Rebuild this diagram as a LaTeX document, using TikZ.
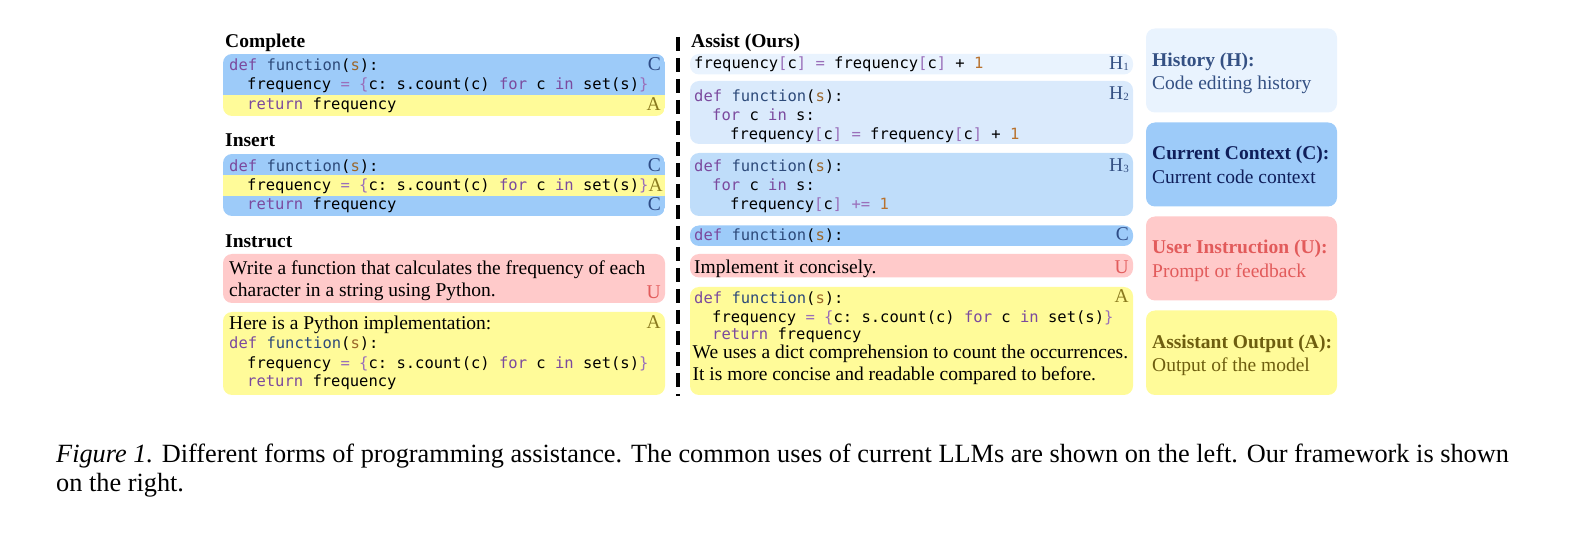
\documentclass[tikz,border=0pt]{standalone}
\usepackage{fontspec}
\setmainfont{Liberation Serif}
\setmonofont{DejaVu Sans Mono}
\definecolor{cblue}{HTML}{9DCBF9}
\definecolor{ayel}{HTML}{FFFB99}
\definecolor{upink}{HTML}{FFCACA}
\definecolor{hone}{HTML}{E9F3FE}
\definecolor{htwo}{HTML}{DAEAFC}
\definecolor{hthree}{HTML}{BFDDFA}
\definecolor{htxt}{HTML}{345083}
\definecolor{ctxt}{HTML}{0F1E5A}
\definecolor{utxt}{HTML}{E25B5B}
\definecolor{atxt}{HTML}{6E5E0F}
\definecolor{clab}{HTML}{2E4C86}
\definecolor{alab}{HTML}{8A7A1E}
\definecolor{kwc}{HTML}{7B4A9E}
\definecolor{opc}{HTML}{9A6FBA}
\definecolor{fnc}{HTML}{2D4A7A}
\definecolor{argc}{HTML}{9A662A}
\definecolor{numc}{HTML}{B8722E}
\newcommand\codefnt{\fontsize{15.5}{19}\selectfont\ttfamily}
\newcommand\txtfnt{\fontsize{19.5}{23}\selectfont}
\newcommand\capfnt{\fontsize{26.3}{29}\selectfont}
\newcommand\kw[1]{\textcolor{kwc}{#1}}
\newcommand\opr[1]{\textcolor{opc}{#1}}
\newcommand\fn[1]{\textcolor{fnc}{#1}}
\newcommand\ag[1]{\textcolor{argc}{#1}}
\newcommand\nm[1]{\textcolor{numc}{#1}}
\newcommand\ind{\hspace*{18pt}}
\newcommand\deffn{\kw{def} \fn{function}(\ag{s}):}
\newcommand\freqline{frequency \opr{=} \opr{\{}c: s.count(c) \kw{for} c \kw{in} set(s)\opr{\}}}
\newcommand\retline{\kw{return} frequency}
\newcommand\incline{frequency\opr{[}c\opr{]} \opr{=} frequency\opr{[}c\opr{]} + \nm{1}}
\newcommand\hsub[1]{H\raisebox{-1pt}{\fontsize{11}{11}\selectfont #1}}
\tikzset{
  code/.style={anchor=base west, inner sep=0pt, font=\codefnt},
  txt/.style={anchor=base west, inner sep=0pt, font=\txtfnt},
  lbl/.style={anchor=base east, inner sep=0pt, font=\txtfnt},
  head/.style={anchor=base west, inner sep=0pt, font=\txtfnt\bfseries},
  legend/.style={anchor=base west, inner sep=0pt, font=\txtfnt},
  rbox/.style={rounded corners=9pt},
}
\begin{document}
\begin{tikzpicture}[x=1pt,y=-1pt]
\useasboundingbox (0,0) rectangle (1575,534);
% ---------------- Left column ----------------
\node[head] (hcomplete) at (225,48) {Complete};
\begin{scope}
  \clip[rbox] (223,54) rectangle (665,116);
  \fill[cblue] (223,54) rectangle (665,95);
  \fill[ayel] (223,95) rectangle (665,116);
\end{scope}
\node[code] (c1a) at (229,71) {\deffn};
\node[code] (c1b) at (229,90) {\ind\freqline};
\node[code] (c1c) at (229,109.5) {\ind\retline};
\node[lbl,text=clab] (c1lc) at (661,71) {C};
\node[lbl,text=alab] (c1la) at (661,111) {A};

\node[head] (hinsert) at (225,147) {Insert};
\begin{scope}
  \clip[rbox] (223,154) rectangle (665,216);
  \fill[cblue] (223,154) rectangle (665,175);
  \fill[ayel] (223,175) rectangle (665,196);
  \fill[cblue] (223,196) rectangle (665,216);
\end{scope}
\node[code] (c2a) at (229,171.5) {\deffn};
\node[code] (c2b) at (229,191) {\ind\freqline};
\node[code] (c2c) at (229,210) {\ind\retline};
\node[lbl,text=clab] (c2lc) at (661,171.5) {C};
\node[lbl,text=alab] (c2la) at (663,191.5) {A};
\node[lbl,text=clab] (c2lc2) at (661,211) {C};

\node[head] (hinstruct) at (225,248) {Instruct};
\fill[upink,rbox] (223,254) rectangle (665,303);
\node[txt] (i1a) at (229,274.5) {Write a function that calculates the frequency of each};
\node[txt] (i1b) at (229,297) {character in a string using Python.};
\node[lbl,text=utxt] (i1lu) at (661,298.5) {U};
\fill[ayel,rbox] (223,312) rectangle (665,395);
\node[txt] (i2a) at (229,330) {Here is a Python implementation:};
\node[code] (i2b) at (229,349) {\deffn};
\node[code] (i2c) at (229,368.5) {\ind\freqline};
\node[code] (i2d) at (229,387) {\ind\retline};
\node[lbl,text=alab] (i2la) at (661,328.5) {A};

% ---------------- Divider ----------------
\coordinate (dtop) at (678,37);
\coordinate (dbot) at (678,396);
\draw[line width=3.6pt, dash pattern=on 14pt off 7pt] (dtop) -- (dbot);

% ---------------- Middle column ----------------
\node[head] (hassist) at (691,48) {Assist (Ours)};
\fill[hone,rbox] (690,54) rectangle (1133,74.5);
\node[code] (m1) at (694,69) {\incline};
\node[lbl,text=htxt] (m1l) at (1129,69.5) {\hsub{1}};

\fill[htwo,rbox] (690,81) rectangle (1133,144);
\node[code] (m2a) at (694,101.5) {\deffn};
\node[code] (m2b) at (694,121) {\ind\kw{for} c \kw{in} s:};
\node[code] (m2c) at (694,140) {\ind\ind\incline};
\node[lbl,text=htxt] (m2l) at (1129,100) {\hsub{2}};

\fill[hthree,rbox] (690,153) rectangle (1133,216);
\node[code] (m3a) at (694,171.5) {\deffn};
\node[code] (m3b) at (694,191) {\ind\kw{for} c \kw{in} s:};
\node[code] (m3c) at (694,210) {\ind\ind frequency\opr{[}c\opr{]} \opr{+=} \nm{1}};
\node[lbl,text=htxt] (m3l) at (1129,171.5) {\hsub{3}};

\fill[cblue,rbox] (690,225.5) rectangle (1133,246);
\node[code] (m4) at (694,240.5) {\deffn};
\node[lbl,text=clab] (m4l) at (1129,241) {C};

\fill[upink,rbox] (690,254) rectangle (1133,277.5);
\node[txt] (m5) at (694,273.5) {Implement it concisely.};
\node[lbl,text=utxt] (m5l) at (1129,273.5) {U};

\fill[ayel,rbox] (690,287) rectangle (1133,395);
\node[code] (m6a) at (694,304) {\deffn};
\node[code] (m6b) at (694,322.5) {\ind\freqline};
\node[code] (m6c) at (694,340) {\ind\retline};
\node[txt] (m6d) at (692.5,359) {We uses a dict comprehension to count the occurrences.};
\node[txt] (m6e) at (692.5,381) {It is more concise and readable compared to before.};
\node[lbl,text=alab] (m6l) at (1129,303) {A};

% ---------------- Legend ----------------
\fill[hone,rbox] (1146,28.5) rectangle (1337,112.5);
\node[legend,text=htxt,font=\txtfnt\bfseries] (lg1a) at (1152,66.5) {History (H):};
\node[legend,text=htxt] (lg1b) at (1152,90) {Code editing history};

\fill[cblue,rbox] (1146,122.5) rectangle (1337,206.5);
\node[legend,text=ctxt,font=\txtfnt\bfseries] (lg2a) at (1152,160) {Current Context (C):};
\node[legend,text=ctxt] (lg2b) at (1152,183.5) {Current code context};

\fill[upink,rbox] (1146,216.5) rectangle (1337,300.5);
\node[legend,text=utxt,font=\txtfnt\bfseries] (lg3a) at (1152,253.5) {User Instruction (U):};
\node[legend,text=utxt] (lg3b) at (1152,277.5) {Prompt or feedback};

\fill[ayel,rbox] (1146,310.5) rectangle (1337,395);
\node[legend,text=atxt,font=\txtfnt\bfseries] (lg4a) at (1152,348.5) {Assistant Output (A):};
\node[legend,text=atxt] (lg4b) at (1152,372) {Output of the model};

% ---------------- Caption ----------------
\node[anchor=base west, inner sep=0pt, font=\capfnt] (cap1) at (56,463) {\textit{Figure 1.} Different forms of programming assistance. The common uses of current LLMs are shown on the left. Our framework is shown};
\node[anchor=base west, inner sep=0pt, font=\capfnt] (cap2) at (56,491.5) {on the right.};
\end{tikzpicture}
\end{document}
